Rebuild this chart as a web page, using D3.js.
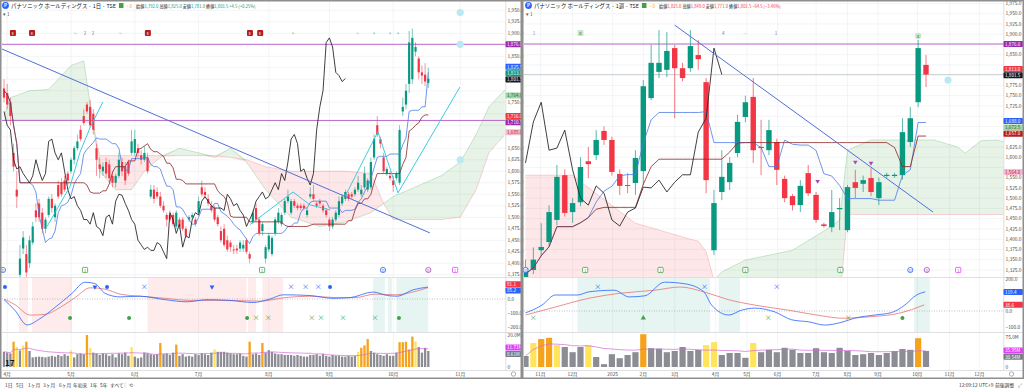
<!DOCTYPE html>
<html><head><meta charset="utf-8">
<script src="https://cdn.jsdelivr.net/npm/d3@7"></script>
<style>
html,body{margin:0;padding:0;background:#fff;overflow:hidden;}
svg{display:block;font-family:"Noto Sans CJK JP","Noto Sans",sans-serif;}
</style></head><body>
<svg id="c" width="1024" height="389"></svg>
<script>
// ---------------- DATA ----------------
// Left: daily candles [open, high, low, close]
const leftOHLC = [
[1780,1800,1750,1760],[1770,1790,1735,1745],[1750,1760,1700,1720],[1640,1660,1600,1610],[1560,1600,1520,1545],
[1375,1440,1350,1410],[1432,1470,1420,1456],[1420,1440,1360,1380],[1400,1460,1390,1450],[1445,1490,1440,1480],
[1515,1530,1490,1500],[1530,1540,1490,1500],[1510,1520,1465,1475],[1475,1500,1465,1495],[1505,1545,1500,1540],
[1540,1550,1510,1520],[1500,1530,1490,1525],[1570,1580,1540,1545],[1575,1585,1545,1550],[1580,1590,1555,1560],
[1595,1600,1570,1580],[1600,1630,1595,1625],[1625,1655,1615,1650],[1650,1680,1645,1665],[1690,1700,1665,1670],
[1720,1735,1700,1705],[1745,1750,1725,1730],[1740,1755,1695,1700],[1725,1735,1680,1690],[1650,1660,1590,1625],
[1615,1630,1585,1605],[1600,1620,1590,1610],[1620,1630,1585,1595],[1615,1625,1575,1585],[1590,1600,1565,1575],
[1575,1595,1565,1590],[1590,1640,1585,1625],[1620,1630,1590,1600],[1610,1620,1570,1580],[1620,1625,1590,1595],
[1640,1690,1635,1665],[1640,1690,1635,1670],[1650,1660,1630,1640],[1635,1645,1615,1625],[1625,1655,1620,1640],
[1630,1640,1595,1600],[1545,1570,1540,1560],[1560,1570,1530,1540],[1555,1565,1540,1545],[1545,1555,1520,1525],
[1525,1535,1510,1515],[1505,1510,1480,1495],[1505,1515,1490,1495],[1505,1510,1480,1485],[1480,1515,1475,1510],
[1495,1500,1475,1480],[1495,1500,1470,1475],[1475,1480,1455,1460],[1495,1505,1490,1500],[1500,1510,1495,1505],
[1495,1500,1480,1485],[1510,1545,1505,1535],[1565,1580,1545,1550],[1555,1565,1540,1548],[1540,1550,1525,1530],
[1525,1535,1510,1515],[1520,1525,1490,1495],[1500,1505,1480,1485],[1470,1480,1445,1450],[1475,1485,1435,1440],
[1450,1460,1425,1430],[1445,1450,1425,1435],[1430,1440,1420,1428],[1432,1440,1420,1428],[1432,1450,1425,1445],
[1432,1450,1425,1440],[1450,1455,1420,1425],[1420,1425,1400,1410],[1490,1515,1485,1510],[1520,1530,1490,1495],
[1495,1500,1460,1465],[1470,1490,1460,1485],[1410,1440,1400,1435],[1430,1465,1425,1460],[1420,1460,1415,1455],
[1465,1500,1460,1495],[1490,1520,1485,1510],[1485,1510,1480,1505],[1510,1540,1505,1535],[1535,1560,1530,1545],
[1510,1540,1505,1535],[1535,1540,1520,1525],[1525,1530,1515,1520],[1525,1530,1515,1520],[1525,1530,1515,1520],
[1505,1520,1500,1515],[1545,1565,1540,1550],[1550,1570,1535,1540],[1530,1535,1520,1525],[1535,1540,1525,1530],
[1525,1530,1510,1515],[1515,1520,1500,1505],[1495,1500,1470,1480],[1480,1500,1475,1495],[1495,1515,1490,1510],
[1505,1545,1500,1535],[1530,1550,1525,1545],[1540,1560,1535,1555],[1550,1555,1535,1540],[1550,1555,1540,1545],
[1550,1565,1545,1560],[1560,1590,1555,1575],[1550,1570,1545,1560],[1565,1610,1560,1595],[1560,1585,1555,1580],
[1565,1630,1560,1620],[1630,1680,1625,1670],[1700,1720,1675,1680],[1670,1675,1650,1660],[1630,1640,1595,1600],
[1595,1610,1590,1605],[1590,1600,1580,1585],[1580,1590,1555,1570],[1585,1600,1580,1595],[1575,1700,1570,1690],
[1730,1760,1720,1740],[1745,1790,1735,1775],[1790,1905,1770,1880],[1800,1910,1790,1890],[1860,1880,1850,1870],
[1845,1850,1800,1815],[1815,1830,1790,1808],[1810,1835,1785,1795],[1792,1825,1781,1801.5]
];
const leftVol = [9.5,9,8.5,15.8,12.5,10.4,13.5,15.8,10,6,
 6.3,6.5,6.3,6,6.5,7,6.5,7.5,6.8,8,
 7,10.4,6,8,8.5,8,20,12,9,8.5,
 7.5,8.5,8,7,8,6,8.5,8,9,7,
 12.5,6.5,5.5,6,9,8.5,8,7.5,8,15,
 8,8.5,7.5,9,14,7,8,6.5,7,6.5,
 8,7.5,8.5,8,7.5,9,11,9.5,9.5,9.5,
 9,8.5,8,8,8.5,7,6.5,15.8,8,8.5,
 7.5,15,9,10.5,9.5,8.5,8,8,7.5,7.5,
 7.5,7,7.5,7,6.5,6.5,7.5,7.5,8,7,
 8,7,6.5,7.5,7,7,6.5,6.5,7,6.5,
 7,9.5,12,13.5,17.5,10,9,8,7.5,7,
 8,7,7,9,15.5,15.5,15.8,11,19,16,
 12.5,9,12,10];
const leftVolOrange = [3,7,26,49,54,77,81,112,113,114,124,125,126,127,128];
const leftVolYellow = [4,6,21,27,40,66,111,129];
// Ichimoku cloud readings (bar index, leading span A, leading span B)
const leftCloudIdx = [0,2,8,14,21,25,28,30,35,40,44,49,55,61,66,71,76,82,90,99,107,115,119,122,127,137,143,148,152,157];
const leftCloudA = [1720,1760,1775,1778,1830,1840,1700,1600,1560,1560,1600,1630,1650,1640,1630,1650,1620,1560,1500,1480,1490,1510,1530,1545,1560,1590,1620,1680,1740,1777];
const leftCloudB = [1711,1711,1711,1711,1711,1711,1700,1634,1634,1634,1634,1634,1634,1634,1634,1630,1625,1610,1600,1600,1600,1595,1530,1495,1495,1495,1500,1560,1640,1680];
// MACD readings (bar index, value)
const leftMacdIdx = [0,3.4,7.2,11.3,16,21.3,25.4,28.5,31.7,36.4,42.6,50.5,57.4,63.6,70.8,78.1,83.4,87.5,95.9,103.1,108.5,115.7,120.1,123.2,128.2,132.9];
const leftMacdVal = [-5,-80,-185,-140,-60,40,120,110,40,15,20,-5,-20,-5,-10,-25,0,30,25,5,10,50,25,20,65,85];
const leftSigIdx = [0,3.4,8.2,12.9,17.6,22.3,27,31.7,36.4,42.6,50.5,58.3,66.1,74,80.3,88.1,95.9,103.8,110,116.3,122.6,127.3,132.9];
const leftSigVal = [0,-40,-115,-110,-60,10,80,70,35,20,5,-10,-10,-12,-15,10,20,10,10,35,30,45,81];
const leftTrend = [[-0.7,1866],[133.5,1466]];
const leftHLines = [1876,1710.5];
const leftCyan = [
  [[13.5,1480],[20.7,1567],[23.8,1641],[27,1695],[31,1751]],
  [[77.1,1484],[90.6,1555],[95.9,1527],[102.2,1516]],
  [[106.9,1545],[117.2,1686],[123.5,1553]],
  [[123.5,1553],[142.9,1783]]
];
const leftDots = [[143,1945],[143,1876],[143,1625]];
const leftMonthIdx = [1,21,41,61,83,102,122,143];
const leftMonthLbl = ["4月","5月","6月","7月","8月","9月","10月","11月"];
const leftMacdPink = [[4.7,7.5],[8.8,21.3],[45,76],[76.5,79],[81,87.5]];
const leftMacdGreen = [[115.7,119.4],[120.4,121.6],[123,133]];
const leftMacdMarks = [[0.3,"dot","top"],[28.5,"tri","top"],[32.3,"dot","top"],[44,"x","top"],[65.2,"tri","top"],[90,"x","top"],[94.5,"x","top"],[98.5,"x","top"],[102.2,"dot","top"],
  [20.7,"dot","bot"],[39.2,"dot","bot"],[76.2,"dot","bot"],[79,"x","bot"],[82.8,"x","bot"],[96.5,"x","bot"],[99.4,"x","bot"],[106.3,"x","bot"],[116.3,"x","bot"],[123.8,"dot","bot"]];
const leftEvents = [[-0.3,"circ","#5c6bc0"],[25.4,"sq","#43a047"],[80.9,"sq","#43a047"],[118.8,"circ","#2962ff"],[133,"circ","#ab47bc"],[141.4,"sq","#e040fb"]];
const leftTopEvents = [[2.8,"E"],[8.8,"E"],[45.1,"E"],[77.1,"E"],[80.3,"E"]];
const leftTopMarks = [[22.3,"~"],[25.4,"2"],[27.9,"2"],[36.4,"~"],[90.6,"+"],[110.7,"~"],[116,"+"],[121,"+"],[123.5,"+"]];
const leftPriceLabels = [[1876,"1,876.0","#9c27b0","#fff"],[1825.5,"1,825.5","#2962ff","#fff"],[1813,"1,813.0","#089981","#fff"],[1801.5,"1,801.5","#131722","#fff"],[1764.6,"1,764.6","#a5d6a7","#1b5e20"],[1716,"1,716.0","#f23645","#fff"],[1710.5,"1,710.5","#9c27b0","#fff"],[1685,"1,685.0","#f8bbd0","#b71c1c"]];
const leftMacdLabels = [[81.1,"81.1","#f23645"],[85.2,"85.2","#2962ff"]];
const leftVolLabels = [[11.7,"11.71M","#e040fb"],[8.6,"8.61M","#787b86"]];

// Right: weekly candles [open, high, low, close]
const rightOHLC = [
[1300,1350,1280,1330],[1325,1380,1315,1350],[1373,1439,1359,1381],[1393,1483,1383,1466],[1447,1581,1434,1552],
[1556,1570,1455,1464],[1466,1500,1440,1488],[1490,1600,1480,1576],[1590,1625,1549,1583],[1605,1666,1593,1642],
[1664,1675,1630,1642],[1642,1650,1555,1564],[1559,1570,1508,1530],[1532,1561,1512,1530],[1537,1617,1508,1598],
[1566,1788,1532,1773],[1744,1874,1739,1830],[1808,1910,1793,1830],[1813,1905,1795,1859],[1866,1874,1695,1817],
[1817,1830,1785,1793],[1817,1910,1808,1871],[1849,1886,1813,1839],[1783,1793,1512,1544],[1373,1520,1361,1488],
[1515,1617,1495,1552],[1539,1600,1520,1586],[1610,1703,1600,1686],[1698,1750,1685,1734],[1747,1793,1586,1617],
[1625,1691,1556,1622],[1617,1691,1605,1666],[1637,1645,1532,1569],[1547,1555,1490,1500],[1505,1510,1470,1483],
[1483,1544,1466,1530],[1561,1581,1505,1512],[1508,1515,1440,1447],[1436,1440,1428,1432],[1429,1520,1417,1466],
[1473,1500,1422,1476],[1422,1532,1417,1527],[1539,1569,1500,1525],[1535,1555,1515,1544],[1549,1573,1505,1515],
[1500,1550,1483,1539],[1554,1562,1550,1557],[1554,1562,1550,1557],[1556,1695,1545,1661],[1637,1722,1625,1695],
[1734,1886,1722,1866],[1825,1849,1771,1801.5]
];
const rightVol = [27.5,60,70,73,55,50,37,50,55,25,7,32,22,30,37,82,47,46,37,40,50,40,43,55,62,30,35,35,23,60,37,43,37,48,43,35,35,47,37,35,48,40,30,32,35,30,35,40,45,43,72,40];
const rightVolOrange = [2,3,15,50];
const rightVolYellow = [1,4,8,23,24,29];
const rightCloudIdx = [0,6,7,14,21,22,23,24,25,26,28,34,38,40,41,44,48,52,55,56,58,60,61];
const rightCloudA = [1280,1280,1280,1280,1280,1280,1290,1300,1320,1330,1349,1373,1420,1446,1617,1642,1642,1642,1625,1610,1640,1642,1637];
const rightCloudB = [1556,1556,1540,1439,1400,1395,1370,1300,1270,1250,1250,1250,1250,1250,1460,1460,1460,1460,1460,1460,1460,1460,1460];
const rightMacdIdx = [0,2.1,3.8,6.6,8.1,11.3,13.2,15.2,17.7,20.3,22.7,23.7,25.9,27.5,29.2,31.7,33.9,36.1,38.1,40.3,41.9,44.5,46.6,48.3,49.8,50.9];
const rightMacdVal = [-12,37,100,100,120,130,88,95,180,170,120,37,-25,5,18,-5,-55,-68,-88,-70,-45,-25,-10,37,100,119.4];
const rightSigIdx = [0,3.8,8.1,11.9,16.5,19.7,22.7,25.9,29.2,33.5,37.7,40.3,44.1,47.5,50.8];
const rightSigVal = [-25,25,80,110,130,150,120,70,37,5,-30,-45,-35,-15,38.6];
const rightTrend = [[19,1922],[51.9,1466]];
const rightHLines = [1876];
const rightPriceLine = 1801.5;
const rightDots = [[53.8,1788]];
const rightTriangles = [[37.2,1534],[42,1581],[44,1578]];
const rightMonthIdx = [1.9,6,11.1,15,19,24.2,28.2,32.1,37,41,44.9,49.9,54,57.8];
const rightMonthLbl = ["11月","12月","2025","2月","3月","4月","5月","6月","7月","8月","9月","10月","11月","12月"];
const rightMacdPink = [];
const rightMacdGreen = [[6.6,23.5],[24.6,27.3],[49.5,51.5]];
const rightMacdMarks = [[1,"x","bot"],[15,"up","bot"],[30.9,"x","bot"],[41.1,"x","bot"],[48,"dot","bot"],[9.2,"x","top"],[22.8,"x","top"],[32,"x","top"]];
const rightEvents = [[0,"circ","#2962ff"],[7.6,"sq","#43a047"],[17.2,"sq","#43a047"],[28,"sq","#43a047"],[40.1,"sq","#43a047"],[49,"circ","#2962ff"],[51.1,"circ","#ab47bc"],[55.1,"sq","#e040fb"]];
const rightTopEvents = [];
const rightTopMarks = [[1.1,"1"],[25.2,"4"],[28,"—"],[31.9,"1"]];
const rightTopGreen = [[7,"8","sq"],[50,"8","circ"]];
const rightPriceLabels = [[1876,"1,876.0","#9c27b0","#fff"],[1813,"1,813.0","#f23645","#fff"],[1801.5,"1,801.5","#131722","#fff"],[1688,"1,688.0","#2962ff","#fff"],[1672.5,"1,672.5","#a5d6a7","#1b5e20"],[1657,"1,657.0","#b71c1c","#fff"],[1564,"1,564.0","#f8bbd0","#b71c1c"]];
const rightMacdLabels = [[119.4,"119.4","#2962ff"],[38.6,"38.6","#f23645"]];
const rightVolLabels = [[35.9,"35.95M","#e040fb"],[30.5,"30.54M","#787b86"]];

// ---------------- HELPERS ----------------
const svg = d3.select("#c");
const defs = svg.append("defs");
const GREEN = "#089981", RED = "#f23645";
function midWin(o,n){return o.map((d,i)=>{const s=o.slice(Math.max(0,i-n+1),i+1);return (d3.max(s,e=>e[1])+d3.min(s,e=>e[2]))/2;});}
function sma(a,n){return a.map((v,i)=>d3.mean(a.slice(Math.max(0,i-n+1),i+1)));}
function clip(id,x,y,w,h){defs.append("clipPath").attr("id",id).append("rect").attr("x",x).attr("y",y).attr("width",w).attr("height",h);return "url(#"+id+")";}
function relax(items,h){
  for(let it=0;it<30;it++){for(let i=1;i<items.length;i++){const d=items[i].y-items[i-1].y;if(d<h){const m=(h-d)/2;items[i].y+=m;items[i-1].y-=m;}}}
}
function labelBoxes(g,P,list,yScale,occupied){
  const items=list.map(d=>({v:d[0],t:d[1],bg:d[2],fg:d[3]||"#fff",y:yScale(d[0])}));
  relax(items,6.3);
  items.forEach(d=>{
    occupied.push(d.y);
    g.append("rect").attr("x",P.plotX1).attr("y",d.y-3).attr("width",P.axisW).attr("height",6).attr("rx",0.8).attr("fill",d.bg);
    g.append("text").attr("x",P.plotX1+1.5).attr("y",d.y+1.7).attr("font-size",4.6).attr("fill",d.fg).text(d.t);
  });
}

function drawPanel(P){
  const g = svg.append("g");
  const x=P.x, y=P.y, ym=P.ym, yv=P.yv;
  const W=P.plotX1-P.plotX0;
  const cMain=clip(P.id+"m",P.plotX0,0,W,P.mainY1);
  const cMacd=clip(P.id+"d",P.plotX0,P.macdY0,W,P.macdY1-P.macdY0);
  const cVol=clip(P.id+"v",P.plotX0,P.volY0,W,P.volY1-P.volY0);
  const ohlc=P.ohlc, closes=ohlc.map(d=>d[3]);

  // grid
  const grid=g.append("g").attr("stroke","#f0f1f4").attr("stroke-width",0.8);
  P.priceTicks.forEach(t=>{const yy=y(t);if(yy>2&&yy<P.mainY1)grid.append("line").attr("x1",P.plotX0).attr("x2",P.plotX1).attr("y1",yy).attr("y2",yy);});
  P.monthIdx.forEach(m=>grid.append("line").attr("x1",x(m)).attr("x2",x(m)).attr("y1",0).attr("y2",P.volY1));

  // cloud
  const cl=P.cloudIdx.map((idx,k)=>({i:idx,a:P.cloudA[k],b:P.cloudB[k]}));
  const gm=g.append("g").attr("clip-path",cMain);
  gm.append("path").datum(cl).attr("fill","rgba(67,160,71,0.13)")
    .attr("d",d3.area().x(d=>x(d.i)).y0(d=>y(d.b)).y1(d=>y(Math.max(d.a,d.b))));
  gm.append("path").datum(cl).attr("fill","rgba(242,54,69,0.12)")
    .attr("d",d3.area().x(d=>x(d.i)).y0(d=>y(d.b)).y1(d=>y(Math.min(d.a,d.b))));
  gm.append("path").datum(cl).attr("fill","none").attr("stroke","rgba(67,160,71,0.35)").attr("stroke-width",0.7)
    .attr("d",d3.line().x(d=>x(d.i)).y(d=>y(d.a)));
  gm.append("path").datum(cl).attr("fill","none").attr("stroke","rgba(242,54,69,0.3)").attr("stroke-width",0.7)
    .attr("d",d3.line().x(d=>x(d.i)).y(d=>y(d.b)));

  P.hLines.forEach(h=>gm.append("line").attr("x1",P.plotX0).attr("x2",P.plotX1).attr("y1",y(h)).attr("y2",y(h)).attr("stroke","#ba68c8").attr("stroke-width",1));
  if(P.priceLine) gm.append("line").attr("x1",P.plotX0).attr("x2",P.plotX1).attr("y1",y(P.priceLine)).attr("y2",y(P.priceLine)).attr("stroke","#c4c6cc").attr("stroke-width",0.8);

  // candles
  const cg=gm.append("g");
  ohlc.forEach((d,i)=>{
    const col=d[3]>=d[0]?GREEN:RED;
    cg.append("line").attr("x1",x(i)).attr("x2",x(i)).attr("y1",y(d[1])).attr("y2",y(d[2])).attr("stroke",col).attr("stroke-width",P.wickW).attr("opacity",0.75);
    const top=y(Math.max(d[0],d[3])), bot=y(Math.min(d[0],d[3]));
    cg.append("rect").attr("x",x(i)-P.bodyW/2).attr("y",top).attr("width",P.bodyW).attr("height",Math.max(1,bot-top)).attr("fill",col);
  });

  // ichimoku lines
  const tenkan=midWin(ohlc,9), kijun=midWin(ohlc,26);
  const ln=d3.line().x(d=>x(d[0])).y(d=>y(d[1]));
  gm.append("path").datum(tenkan.map((v,i)=>[i,v])).attr("fill","none").attr("stroke","#4a7be8").attr("stroke-width",0.8).attr("d",ln);
  gm.append("path").datum(kijun.map((v,i)=>[i,v])).attr("fill","none").attr("stroke","#8e2424").attr("stroke-width",0.8).attr("d",ln);
  const chikou=closes.map((v,i)=>[i-26,v]).filter(d=>d[0]>=0);
  gm.append("path").datum(chikou).attr("fill","none").attr("stroke","#2a2a2a").attr("stroke-width",0.9).attr("d",ln);

  (P.cyan||[]).forEach(seg=>gm.append("path").datum(seg).attr("fill","none").attr("stroke","#26c6da").attr("stroke-width",0.9).attr("d",ln));
  gm.append("path").datum(P.trend).attr("fill","none").attr("stroke","#5270d6").attr("stroke-width",1).attr("d",ln);
  P.dots.forEach(d=>gm.append("circle").attr("cx",x(d[0])).attr("cy",y(d[1])).attr("r",3.6).attr("fill","#b9e9f2"));
  (P.triangles||[]).forEach(d=>gm.append("path").attr("d",d3.symbol(d3.symbolTriangle,9)()).attr("transform","translate("+x(d[0])+","+(y(d[1])-3)+") rotate(180)").attr("fill","#ab47bc"));

  // event markers at bottom of main pane
  P.events.forEach(e=>{
    const cx=x(e[0]), cy=P.mainY1-7;
    if(e[1]==="circ") g.append("circle").attr("cx",cx).attr("cy",cy).attr("r",2.6).attr("fill","#fff").attr("stroke",e[2]).attr("stroke-width",0.8);
    else g.append("rect").attr("x",cx-2.6).attr("y",cy-2.6).attr("width",5.2).attr("height",5.2).attr("rx",0.8).attr("fill","#fff").attr("stroke",e[2]).attr("stroke-width",0.8);
    g.append("text").attr("x",cx).attr("y",cy+1.5).attr("text-anchor","middle").attr("font-size",3.8).attr("fill",e[2]).text(e[1]==="circ"?"D":"1");
  });
  P.topEvents.forEach(e=>{
    const cx=x(e[0]);
    g.append("rect").attr("x",cx-3).attr("y",30).attr("width",6).attr("height",6).attr("rx",1).attr("fill","#b71c1c");
    g.append("text").attr("x",cx).attr("y",34.7).attr("text-anchor","middle").attr("font-size",4).attr("fill","#fff").text(e[1]);
  });
  P.topMarks.forEach(e=>g.append("text").attr("x",x(e[0])).attr("y",35).attr("text-anchor","middle").attr("font-size",4.6).attr("fill",e[1]==="+"?"#43a047":(e[1]==="—"?"#f48fb1":"#787b86")).text(e[1]));
  (P.topGreen||[]).forEach(e=>{
    const cx=x(e[0]);
    if(e[2]==="sq") g.append("rect").attr("x",cx-3).attr("y",30).attr("width",6).attr("height",6).attr("rx",1).attr("fill","#c8e6c9");
    else g.append("circle").attr("cx",cx).attr("cy",36).attr("r",3.2).attr("fill","#c8e6c9");
    g.append("text").attr("x",cx).attr("y",e[2]==="sq"?34.7:37.5).attr("text-anchor","middle").attr("font-size",4).attr("fill","#1b5e20").text(e[1]);
  });

  // ---- MACD pane ----
  const gd=g.append("g").attr("clip-path",cMacd);
  P.macdPink.forEach(b=>gd.append("rect").attr("x",x(b[0])).attr("y",P.macdY0).attr("width",x(b[1])-x(b[0])).attr("height",P.macdY1-P.macdY0).attr("fill","rgba(242,54,69,0.1)"));
  P.macdGreen.forEach(b=>gd.append("rect").attr("x",x(b[0])).attr("y",P.macdY0).attr("width",x(b[1])-x(b[0])).attr("height",P.macdY1-P.macdY0).attr("fill","rgba(8,153,129,0.1)"));
  gd.append("line").attr("x1",P.plotX0).attr("x2",P.plotX1).attr("y1",ym(0)).attr("y2",ym(0)).attr("stroke","#9598a1").attr("stroke-width",0.6).attr("stroke-dasharray","1,1.5");
  const lm=d3.line().x(d=>x(d[0])).y(d=>ym(d[1])).curve(d3.curveMonotoneX);
  gd.append("path").datum(P.sigIdx.map((v,i)=>[v,P.sigVal[i]])).attr("fill","none").attr("stroke","#e57373").attr("stroke-width",0.8).attr("d",lm);
  gd.append("path").datum(P.macdIdx.map((v,i)=>[v,P.macdVal[i]])).attr("fill","none").attr("stroke","#2962ff").attr("stroke-width",0.8).attr("d",lm);
  P.macdMarks.forEach(m=>{
    const cx=x(m[0]), top=m[2]==="top", cy=top?P.macdY0+9:P.macdY0+40, col=top?"#2962ff":"#43a047";
    if(m[1]==="dot") gd.append("circle").attr("cx",cx).attr("cy",cy).attr("r",2).attr("fill",col);
    else if(m[1]==="x") gd.append("text").attr("x",cx).attr("y",cy+2).attr("text-anchor","middle").attr("font-size",7).attr("fill",col).text("×");
    else if(m[1]==="tri") gd.append("path").attr("d",d3.symbol(d3.symbolTriangle,10)()).attr("transform","translate("+cx+","+cy+") rotate(180)").attr("fill",col);
    else gd.append("path").attr("d",d3.symbol(d3.symbolTriangle,12)()).attr("transform","translate("+cx+","+cy+")").attr("fill",col);
  });

  // ---- Volume pane ----
  const gv=g.append("g").attr("clip-path",cVol);
  P.vol.forEach((v,i)=>{
    const col=P.volOrange.includes(i)?"#f7a21b":(P.volYellow.includes(i)?"#ffe45c":"#8c8c94");
    gv.append("rect").attr("x",x(i)-P.volW/2).attr("y",yv(v)).attr("width",P.volW).attr("height",yv(0)-yv(v)).attr("fill",col);
  });
  const vma=sma(P.vol,20);
  gv.append("path").datum(vma.map((v,i)=>[i,v])).attr("fill","none").attr("stroke","#d46ad8").attr("stroke-width",0.7)
    .attr("d",d3.line().x(d=>x(d[0])).y(d=>yv(d[1])));

  // separators
  const sep=g.append("g").attr("stroke","#d6d8dd").attr("stroke-width",0.8);
  [P.mainY1+0.5,P.volY0-0.5,P.volY1+0.5].forEach(yy=>sep.append("line").attr("x1",P.plotX0).attr("x2",P.plotX1+P.axisW).attr("y1",yy).attr("y2",yy));
  sep.append("line").attr("x1",P.plotX1+0.3).attr("x2",P.plotX1+0.3).attr("y1",0).attr("y2",P.volY1);

  // value label boxes first (so tick labels can avoid them)
  const occ=[];
  const lb=g.append("g");
  labelBoxes(lb,P,P.priceLabels,y,occ);
  labelBoxes(lb,P,P.macdLabels.map(d=>[d[0],d[1],d[2],"#fff"]),ym,occ);
  labelBoxes(lb,P,P.volLabels.map(d=>[d[0],d[1],d[2],"#fff"]),yv,occ);
  const free=yy=>occ.every(o=>Math.abs(o-yy)>5.2);
  const ax=g.append("g").attr("font-size",4.8).attr("fill","#4a4a4a");
  const f1=d3.format(",.1f");
  P.priceTicks.forEach(t=>{const yy=y(t);if(yy>2&&yy<P.mainY1-2&&free(yy))ax.append("text").attr("x",P.plotX1+2).attr("y",yy+1.7).text(f1(t));});
  P.macdTicks.forEach(t=>{const yy=ym(t);if(free(yy))ax.append("text").attr("x",P.plotX1+2).attr("y",yy+1.7).text(d3.format(".1f")(t));});
  P.volTicks.forEach(t=>{const yy=yv(t[0]);if(free(yy))ax.append("text").attr("x",P.plotX1+2).attr("y",yy+1.7).text(t[1]);});
  lb.raise();
  // time axis
  P.monthIdx.forEach((m,k)=>ax.append("text").attr("x",x(m)).attr("y",P.volY1+5.8).attr("text-anchor","middle").text(P.monthLbl[k]));
  ax.append("circle").attr("cx",P.plotX1+8).attr("cy",P.volY1+4).attr("r",2.2).attr("fill","none").attr("stroke","#787b86").attr("stroke-width",0.6);
  return g;
}

// ---------------- PANELS ----------------
const common = {mainY1:277, macdY0:278, macdY1:332, volY0:333, volY1:370};
drawPanel(Object.assign({}, common, {
  id:"L", ohlc:leftOHLC, vol:leftVol, volOrange:leftVolOrange, volYellow:leftVolYellow,
  x:d3.scaleLinear().domain([0,133]).range([4,428.3]),
  y:d3.scaleLinear().domain([1876,1376]).range([44.3,274.3]),
  ym:d3.scaleLinear().domain([0,-200]).range([299,327]),
  yv:d3.scaleLinear().domain([0,20]).range([367,335]),
  plotX0:2, plotX1:505.5, axisW:16, bodyW:2.2, wickW:0.7, volW:2.3,
  priceTicks:d3.range(1375,1951,25), macdTicks:[0,-100,-200], volTicks:[[20,"20.0M"],[0,"0"]],
  cloudIdx:leftCloudIdx, cloudA:leftCloudA, cloudB:leftCloudB, hLines:leftHLines, trend:leftTrend,
  macdIdx:leftMacdIdx, macdVal:leftMacdVal, sigIdx:leftSigIdx, sigVal:leftSigVal,
  cyan:leftCyan, dots:leftDots, monthIdx:leftMonthIdx, monthLbl:leftMonthLbl,
  macdPink:leftMacdPink, macdGreen:leftMacdGreen, macdMarks:leftMacdMarks, events:leftEvents,
  topEvents:leftTopEvents, topMarks:leftTopMarks, priceLabels:leftPriceLabels, macdLabels:leftMacdLabels, volLabels:leftVolLabels
}));
drawPanel(Object.assign({}, common, {
  id:"R", ohlc:rightOHLC, vol:rightVol, volOrange:rightVolOrange, volYellow:rightVolYellow,
  x:d3.scaleLinear().domain([0,51]).range([525.5,926]),
  y:d3.scaleLinear().domain([1876,1376]).range([44,249]),
  ym:d3.scaleLinear().domain([0,-100]).range([311,327]),
  yv:d3.scaleLinear().domain([0,75]).range([367,337]),
  plotX0:524, plotX1:1003.5, axisW:19.5, bodyW:5.4, wickW:0.9, volW:6.2,
  priceTicks:d3.range(1325,1976,25), macdTicks:[200,100,0,-100], volTicks:[[75,"75.0M"],[25,"25.0M"],[0,"0"]],
  cloudIdx:rightCloudIdx, cloudA:rightCloudA, cloudB:rightCloudB, hLines:rightHLines, priceLine:rightPriceLine, trend:rightTrend,
  macdIdx:rightMacdIdx, macdVal:rightMacdVal, sigIdx:rightSigIdx, sigVal:rightSigVal,
  cyan:[], dots:rightDots, triangles:rightTriangles, monthIdx:rightMonthIdx, monthLbl:rightMonthLbl,
  macdPink:rightMacdPink, macdGreen:rightMacdGreen, macdMarks:rightMacdMarks, events:rightEvents,
  topEvents:rightTopEvents, topMarks:rightTopMarks, topGreen:rightTopGreen, priceLabels:rightPriceLabels, macdLabels:rightMacdLabels, volLabels:rightVolLabels
}));

// ---------------- HEADERS / CHROME ----------------
function header(x0, title, vals, valColor, chg){
  const h=svg.append("g");
  h.append("circle").attr("cx",x0+3.5).attr("cy",5.5).attr("r",3.4).attr("fill","#2962ff");
  h.append("text").attr("x",x0+3.5).attr("y",7.2).attr("text-anchor","middle").attr("font-size",4.6).attr("font-weight","bold").attr("fill","#fff").text("P");
  const tt=h.append("text").attr("x",x0+9).attr("y",7.8).attr("font-size",5.4).attr("fill","#131722").text(title);
  let cx=x0+9+tt.node().getComputedTextLength()+3;
  h.append("rect").attr("x",cx).attr("y",3).attr("width",4.5).attr("height",5).attr("fill","#43a047");
  cx+=7;
  const z=h.append("text").attr("x",cx).attr("y",7.6).attr("font-size",4.6).attr("fill","#f9a825").text("~ 0");
  cx+=z.node().getComputedTextLength()+4;
  const t=h.append("text").attr("x",cx).attr("y",7.6).attr("font-size",4.2);
  vals.forEach(v=>{t.append("tspan").attr("fill","#131722").text(v[0]);t.append("tspan").attr("fill",valColor).text(v[1]+" ");});
  t.append("tspan").attr("fill",valColor).text(chg);
  h.append("text").attr("x",x0+1).attr("y",16).attr("font-size",4.8).attr("fill","#555").text("▾ 1");
}
header(2,"パナソニック ホールディングス · 1日 · TSE",[["始値","1,792.0"],["高値","1,825.0"],["安値","1,781.0"],["終値","1,801.5"]],"#089981","+4.5 (+0.25%)");
header(525,"パナソニック ホールディングス · 1週 · TSE",[["始値","1,825.0"],["高値","1,849.0"],["安値","1,771.0"],["終値","1,801.5"]],"#f23645","−64.5 (−3.46%)");

svg.append("text").attr("x",5).attr("y",366).attr("font-size",8).attr("font-weight","bold").attr("fill","#131722").text("17");

const tb=[["1日",5],["5日",16],["1ヶ月",28],["3ヶ月",43],["6ヶ月",59],["年初来",73],["1年",90],["5年",100],["すべて",110]];
tb.forEach(d=>svg.append("text").attr("x",d[1]).attr("y",386.5).attr("font-size",4.8).attr("fill","#333").text(d[0]));
svg.append("line").attr("x1",125).attr("x2",125).attr("y1",382).attr("y2",388).attr("stroke","#ccc").attr("stroke-width",0.6);
svg.append("text").attr("x",129).attr("y",386.8).attr("font-size",5.4).attr("fill","#555").text("⟲");
svg.append("text").attr("x",959).attr("y",386.5).attr("font-size",4.8).attr("fill","#333").text("12:09:12 UTC+9");
svg.append("text").attr("x",995).attr("y",386.5).attr("font-size",4.8).attr("fill","#333").text("前後調整");
svg.append("text").attr("x",1018).attr("y",386.5).attr("font-size",5).attr("fill","#555").text("⤢");

svg.append("rect").attr("x",0.75).attr("y",0.75).attr("width",520.5).attr("height",377.5).attr("fill","none").attr("stroke","#8e8e8e").attr("stroke-width",1.5);
svg.append("rect").attr("x",522.75).attr("y",0.75).attr("width",500.5).attr("height",377.5).attr("fill","none").attr("stroke","#8e8e8e").attr("stroke-width",1.5);
</script>
</body></html>
